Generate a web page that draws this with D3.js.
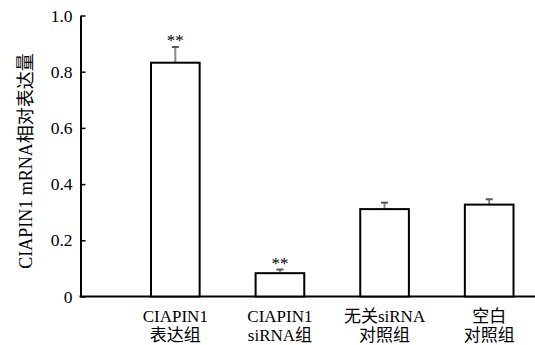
<!DOCTYPE html>
<html>
<head>
<meta charset="utf-8">
<script src="https://cdn.jsdelivr.net/npm/d3@7/dist/d3.min.js"></script>
<style>
  html, body { margin: 0; padding: 0; background: #fff; }
  svg { display: block; }
  svg text { font-family: "Liberation Serif", "Noto Sans CJK SC", serif !important; fill: #000; }
</style>
</head>
<body>
<svg id="chart" width="535" height="345"></svg>
<script>
// Relative CIAPIN1 mRNA expression per group
const groupLine1 = ["CIAPIN1", "CIAPIN1", "无关siRNA", "空白"];
const groupLine2 = ["表达组", "siRNA组", "对照组", "对照组"];
const means = [0.832, 0.083, 0.311, 0.327];
const errors = [0.056, 0.013, 0.023, 0.019];
const marks = ["**", "**", "", ""];
const yTicks = [0, 0.2, 0.4, 0.6, 0.8, 1.0];
const yTickLabels = ["0", "0.2", "0.4", "0.6", "0.8", "1.0"];
const yTitle = "CIAPIN1 mRNA相对表达量";

const svg = d3.select("#chart");
const axisX = 80.5, baseY = 296.5;

const y = d3.scaleLinear().domain([0, 1]).range([baseY, 15.5]);
const x = d3.scaleBand()
  .domain(d3.range(means.length))
  .range([123, 541.5])
  .paddingInner(0.535)
  .paddingOuter(0.2675);

// y axis with inward ticks
const yAxis = d3.axisLeft(y)
  .tickValues(yTicks)
  .tickFormat((d, i) => yTickLabels[i])
  .tickSizeInner(-5)
  .tickSizeOuter(0)
  .tickPadding(8);

const gy = svg.append("g")
  .attr("transform", `translate(${axisX},0)`)
  .call(yAxis)
  .attr("font-family", "Liberation Serif")
  .attr("font-size", 17.5);
gy.select(".domain").attr("stroke", "#000").attr("stroke-width", 2);
gy.selectAll(".tick line").attr("stroke", "#000").attr("stroke-width", 1.5);

// x baseline
svg.append("line")
  .attr("x1", axisX - 1).attr("x2", 535)
  .attr("y1", baseY).attr("y2", baseY)
  .attr("stroke", "#000").attr("stroke-width", 2);

const bars = svg.append("g").selectAll("g")
  .data(means)
  .join("g");

// error bars (drawn first, the bar outline sits on top)
bars.append("line")
  .attr("x1", (d, i) => x(i) + x.bandwidth() / 2)
  .attr("x2", (d, i) => x(i) + x.bandwidth() / 2)
  .attr("y1", d => y(d))
  .attr("y2", (d, i) => y(d + errors[i]))
  .attr("stroke", "#8a8a8a").attr("stroke-width", 2);
bars.append("line")
  .attr("x1", (d, i) => x(i) + x.bandwidth() / 2 - 3.5)
  .attr("x2", (d, i) => x(i) + x.bandwidth() / 2 + 3.5)
  .attr("y1", (d, i) => y(d + errors[i]))
  .attr("y2", (d, i) => y(d + errors[i]))
  .attr("stroke", "#555").attr("stroke-width", 2);

bars.append("rect")
  .attr("x", (d, i) => x(i))
  .attr("width", x.bandwidth())
  .attr("y", d => y(d))
  .attr("height", d => baseY - y(d))
  .attr("fill", "#fff")
  .attr("stroke", "#000").attr("stroke-width", 2);

// significance marks
bars.append("text")
  .attr("x", (d, i) => x(i) + x.bandwidth() / 2)
  .attr("y", (d, i) => y(d + errors[i]) - 1)
  .attr("text-anchor", "middle")
  .attr("font-size", 17)
  .text((d, i) => marks[i]);

// category labels, two lines each
const labelG = svg.append("g").selectAll("g")
  .data(means)
  .join("g")
  .attr("text-anchor", "middle")
  .attr("font-size", 17);
labelG.append("text")
  .attr("x", (d, i) => x(i) + x.bandwidth() / 2)
  .attr("y", 321.7)
  .text((d, i) => groupLine1[i]);
labelG.append("text")
  .attr("x", (d, i) => x(i) + x.bandwidth() / 2)
  .attr("y", 341)
  .text((d, i) => groupLine2[i]);

// y axis title
svg.append("text")
  .attr("transform", "translate(32,161) rotate(-90)")
  .attr("text-anchor", "middle")
  .attr("font-size", 18)
  .text(yTitle);
</script>
</body>
</html>
